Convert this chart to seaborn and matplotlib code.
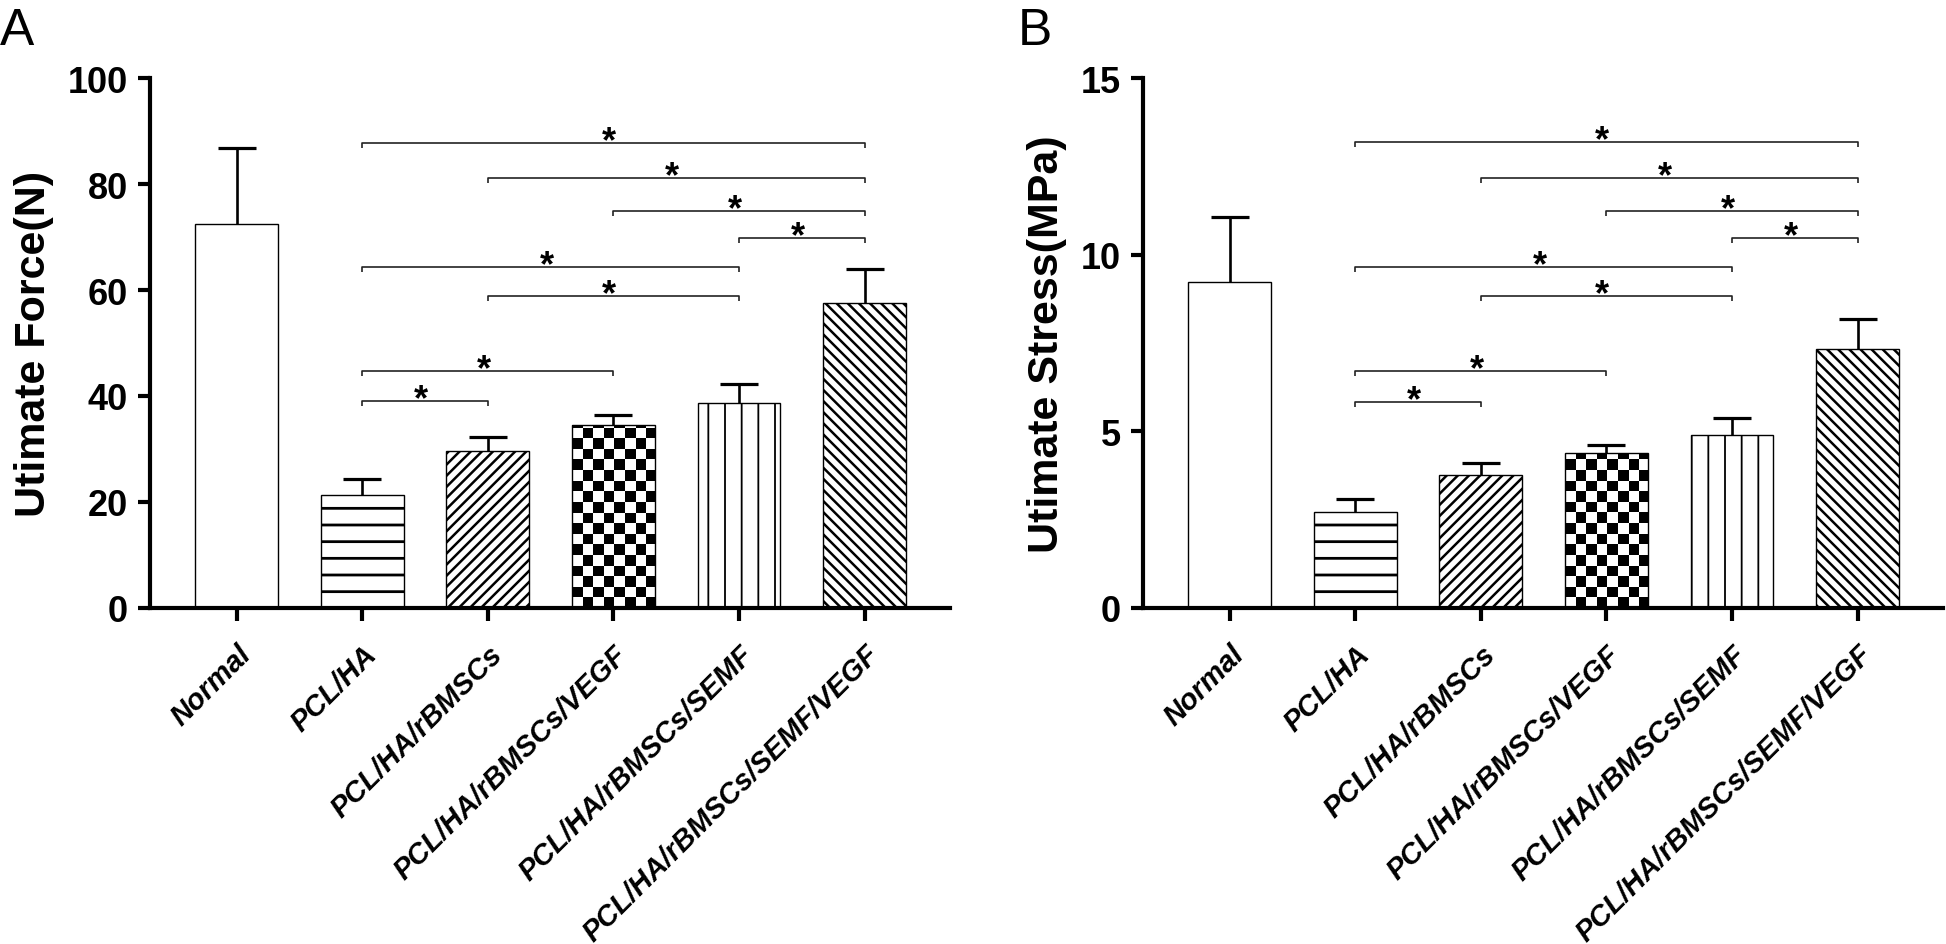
import numpy as np
import pandas as pd
import matplotlib
matplotlib.use("Agg")
import matplotlib.pyplot as plt
import seaborn as sns
from matplotlib.colors import ListedColormap

# ---------------- data ----------------
groups = ["Normal", "PCL/HA", "PCL/HA/rBMSCs", "PCL/HA/rBMSCs/VEGF",
          "PCL/HA/rBMSCs/SEMF", "PCL/HA/rBMSCs/SEMF/VEGF"]
force_mean = [72.5, 21.4, 29.6, 34.5, 38.6, 57.5]
force_sd = [14.3, 3.0, 2.7, 1.9, 3.7, 6.5]
stress_mean = [9.22, 2.72, 3.76, 4.38, 4.90, 7.33]
stress_sd = [1.84, 0.37, 0.34, 0.24, 0.49, 0.85]

# significance brackets: (group i, group j, level)
force_brackets = [(1, 5, 87.8), (2, 5, 81.2), (3, 5, 75.0), (4, 5, 69.8),
                  (1, 4, 64.4), (2, 4, 58.9), (1, 3, 44.7), (1, 2, 39.0)]
stress_brackets = [(1, 5, 13.18), (2, 5, 12.18), (3, 5, 11.25), (4, 5, 10.47),
                   (1, 4, 9.66), (2, 4, 8.83), (1, 3, 6.71), (1, 2, 5.84)]

force_ticks = [0, 20, 40, 60, 80, 100]
stress_ticks = [0, 5, 10, 15]

hatches = ["", "-", "///", "checker", "|", "\\\\\\"]
hatch_lw = [1.0, 2.0, 1.8, 1.0, 1.3, 1.8]

# ---------------- style ----------------
sns.set_style("ticks")
plt.rcParams["font.family"] = ["Liberation Sans", "DejaVu Sans"]
plt.rcParams["hatch.color"] = "black"
for k in ("text.color", "axes.labelcolor", "xtick.color", "ytick.color",
          "axes.edgecolor"):
    plt.rcParams[k] = "black"

DPI = 100
fig = plt.figure(figsize=(19.46, 9.45), dpi=DPI)
W, H = 1946, 945


def add_checker(ax, patch, s_px=10.6):
    x0, y0 = patch.get_x(), patch.get_y()
    w, h = patch.get_width(), patch.get_height()
    p0 = ax.transData.transform((x0, y0))
    p1 = ax.transData.transform((x0 + w, y0 + h))
    wpx, hpx = p1 - p0
    nx = int(np.ceil(wpx / s_px)) + 1
    ny = int(np.ceil(hpx / s_px)) + 1
    dx = w * s_px / wpx
    dy = h * s_px / hpx
    arr = np.add.outer(np.arange(ny), np.arange(nx)) % 2
    im = ax.imshow(arr, cmap=ListedColormap(["white", "black"]),
                   extent=(x0, x0 + nx * dx, y0, y0 + ny * dy),
                   origin="lower", interpolation="nearest", aspect="auto",
                   zorder=patch.get_zorder() - 0.05)
    im.set_clip_path(patch)
    patch.set_facecolor("none")


def panel(rect, means, sds, brackets, yticks, ylabel, letter, letter_x):
    ax = fig.add_axes(rect)
    df = pd.DataFrame({"group": groups, "value": means})
    sns.barplot(data=df, x="group", y="value", hue="group",
                palette=["white"] * len(groups), edgecolor="black",
                linewidth=1.0, width=0.66, legend=False, errorbar=None,
                ax=ax, zorder=2)
    ax.set_xlim(-0.69, 5.68)
    ax.set_ylim(yticks[0], yticks[-1])

    bars = [p for p in ax.patches]
    for p, hch, hlw in zip(bars, hatches, hatch_lw):
        if hch == "checker":
            continue
        p.set_hatch(hch)
        if hasattr(p, "set_hatch_linewidth"):
            p.set_hatch_linewidth(hlw)
    for p, hch in zip(bars, hatches):
        if hch == "checker":
            add_checker(ax, p)
    ax.set_xlim(-0.69, 5.68)
    ax.set_ylim(yticks[0], yticks[-1])

    # one-sided error bars
    xs = np.arange(len(groups))
    _, caplines, _ = ax.errorbar(xs, means, yerr=[np.zeros(len(means)), sds],
                                 fmt="none", ecolor="black", elinewidth=1.9,
                                 capsize=14, capthick=2.3, zorder=3)
    for cl in caplines:
        if np.allclose(cl.get_ydata(), means):
            cl.set_visible(False)

    # brackets
    inv = ax.transData.inverted()
    d = inv.transform((0, 5))[1] - inv.transform((0, 0))[1]
    for i, j, y in brackets:
        ax.plot([i, i, j, j], [y - d, y, y, y - d], color="#222222",
                lw=1.2, zorder=4, solid_capstyle="butt")
        ax.annotate("*", xy=((i + j) / 2, y), xytext=(-3, -6),
                    textcoords="offset points", ha="center", va="baseline",
                    fontsize=26, fontweight="bold", color="black")

    # axes styling
    sns.despine(ax=ax)
    for s in ("left", "bottom"):
        ax.spines[s].set_linewidth(3.0)
    ax.set_yticks(yticks)
    ax.set_yticklabels([str(t) for t in yticks], fontsize=26, fontweight="bold")
    ax.set_xticks(xs)
    ax.set_xticklabels(groups, rotation=45, ha="right", va="top",
                       rotation_mode="anchor", fontsize=21,
                       fontweight="bold", fontstyle="italic")
    ax.tick_params(axis="y", width=3, length=9, pad=7)
    ax.tick_params(axis="x", width=3, length=9, pad=14)
    ax.set_xlabel("")
    ax.set_ylabel(ylabel, fontsize=31, fontweight="bold", labelpad=10)
    fig.text(letter_x, 1 - 45 / H, letter, fontsize=37, va="baseline",
             ha="left")
    return ax


bottom = 1 - 609 / H
height = (609 - 79) / H
panel([150 / W, bottom, 800 / W, height], force_mean, force_sd,
      force_brackets, force_ticks, "Utimate Force(N)", "A", 0 / W)
panel([1143 / W, bottom, 800 / W, height], stress_mean, stress_sd,
      stress_brackets, stress_ticks, "Utimate Stress(MPa)", "B", 1018 / W)

fig.savefig("out.png", dpi=DPI)
